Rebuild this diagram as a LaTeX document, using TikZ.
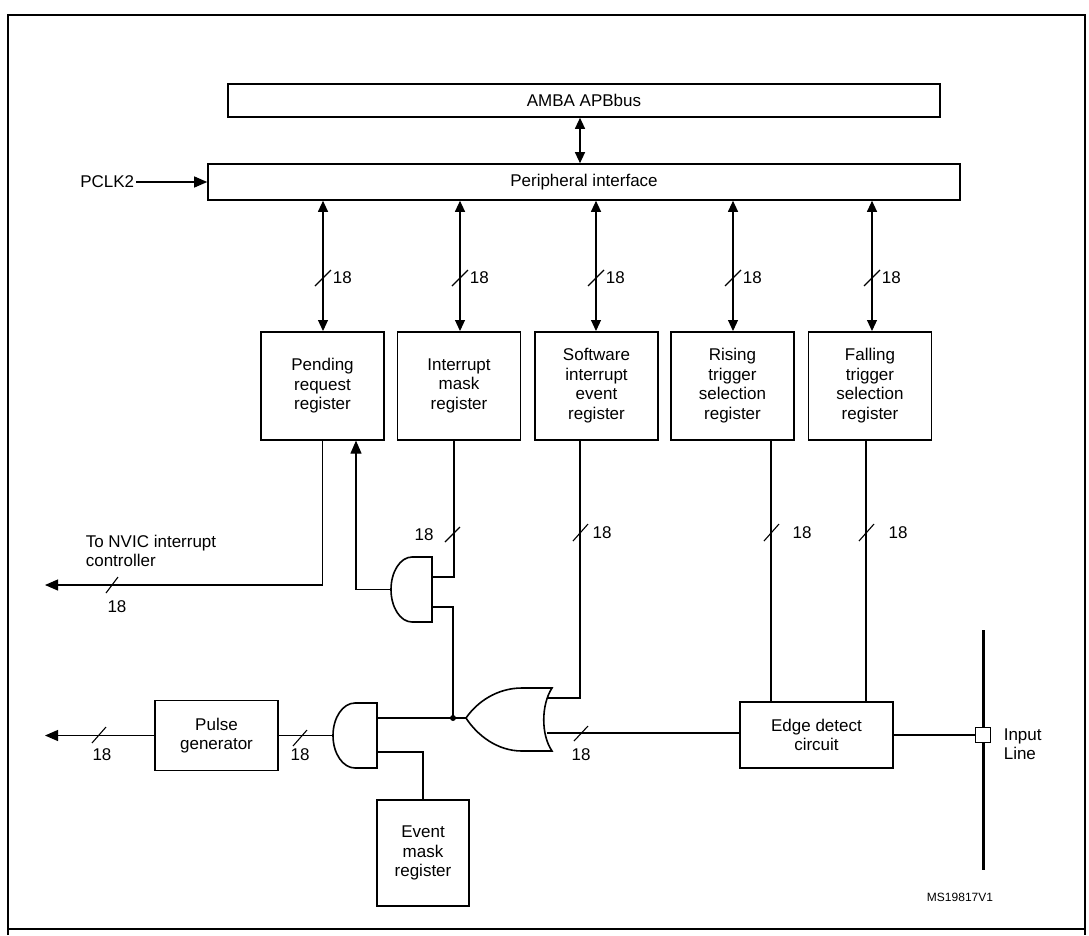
\documentclass[tikz,border=0pt]{standalone}
\usepackage{fontspec}
\setmainfont{Liberation Sans}
\usetikzlibrary{arrows.meta}
\begin{document}
\begin{tikzpicture}[x=1pt,y=-1pt,line width=1.6pt,
  every node/.style={font=\fontsize{17}{19.5}\selectfont},
  box/.style={draw,rectangle,align=center,inner sep=1pt},
  reg/.style={box,minimum width=123pt,minimum height=108pt,anchor=north},
  tip/.style={-{Triangle[length=13pt,width=11pt]}},
  dtip/.style={{Triangle[length=11pt,width=10pt]}-{Triangle[length=11pt,width=10pt]}},
  bus/.style={line width=1.1pt},
  lbl/.style={font=\fontsize{17}{19.5}\selectfont,inner sep=1pt}]
\useasboundingbox (0,0) rectangle (1089,935);
\draw[line width=1.8pt] (8,935) -- (8,15) -- (1085,15) -- (1085,935);
\draw[line width=1.8pt] (8,929) -- (1085,929);
% buses
\node[box,minimum width=712pt,minimum height=33pt] (amba) at (584,100.5) {AMBA APBbus};
\node[box,minimum width=752pt,minimum height=36pt] (pi) at (584,182) {Peripheral interface};
\draw[dtip,bus] (amba.south -| 580,0) -- (pi.north -| 580,0);
\node[lbl,anchor=east] (pclk) at (136,182) {PCLK2};
\draw[tip,bus] (pclk.east) -- (pi.west);
% registers
\node[reg] (pend) at (322.5,331) {Pending\\request\\register};
\node[reg] (imask) at (459,331) {Interrupt\\mask\\register};
\node[reg] (sw) at (596.5,331) {Software\\interrupt\\event\\register};
\node[reg] (rise) at (732.5,331) {Rising\\trigger\\selection\\register};
\node[reg] (fall) at (870,331) {Falling\\trigger\\selection\\register};
\foreach \n/\x in {pend/323,imask/460,sw/596,rise/733,fall/872}{
  \draw[dtip,bus] (pi.south -| \x,0) -- (\n.north -| \x,0);
  \draw[bus] (\x-8,286) -- (\x+8,270);
  \node[lbl,anchor=west] at (\x+8,278) {18};
}
% other boxes
\node[box,minimum width=123pt,minimum height=70pt] (pulse) at (216.5,735.5) {Pulse\\generator};
\node[box,minimum width=92pt,minimum height=106pt] (emask) at (423,853) {Event\\mask\\register};
\node[box,minimum width=153pt,minimum height=66pt] (edge) at (816.5,735) {Edge detect\\circuit};
% upper AND gate (facing left)
\draw (432,557) -- (412,557) arc[start angle=90,end angle=270,x radius=21pt,y radius=32.5pt] -- (432,622) -- cycle;
\coordinate (a1in1) at (432,577);
\coordinate (a1in2) at (432,607);
\coordinate (a1out) at (391,589.5);
% lower AND gate
\draw (377,703) -- (355,703) arc[start angle=90,end angle=270,x radius=22pt,y radius=32.5pt] -- (377,768) -- cycle;
\coordinate (a2in1) at (377,718);
\coordinate (a2in2) at (377,752);
\coordinate (a2out) at (333,735.5);
% OR gate
\draw (552,688) .. controls (541,705) and (541,735) .. (552,751) -- (522,751)
  .. controls (497,751) and (477,735) .. (466,718) .. controls (477,702) and (497,688) .. (522,688) -- cycle;
\coordinate (orin1) at (548,698);
\coordinate (orin2) at (547,733);
\coordinate (orout) at (466,718);
\coordinate (jn) at (453,718);
% connections
\draw[tip,bus] (pend.south) |- (45,585);
\draw[bus] (106,593) -- (118,577);
\node[lbl] at (117,607) {18};
\node[lbl,align=left,anchor=west] at (84,551) {To NVIC interrupt\\controller};
\draw[tip,bus] (a1out) -| (pend.south -| 356,0);
\draw[bus] (imask.south -| 454,0) |- (a1in1);
\draw[bus] (445,542) -- (460,527);
\node[lbl] at (424,535) {18};
\draw[bus] (a1in2) -| (jn);
\draw[bus] (a2in1) -- (jn) -- (orout);
\fill (jn) circle (3pt);
\draw[bus] (a2in2) -| (emask.north);
\draw[bus] (a2out) -- (pulse.east);
\draw[bus] (293,746) -- (307,730);
\node[lbl] at (300,755) {18};
\draw[tip,bus] (pulse.west) -- (45,735.5);
\draw[bus] (92,743) -- (106,727);
\node[lbl] at (102,755) {18};
\draw[bus] (sw.south -| 580,0) |- (orin1);
\draw[bus] (573,541) -- (588,524);
\node[lbl] at (602,533) {18};
\draw[bus] (orin2) -- (edge.west |- 0,733);
\draw[bus] (574,741) -- (588,726);
\node[lbl] at (581,755) {18};
\draw[bus] (rise.south -| 771,0) -- (edge.north -| 771,0);
\draw[bus] (764,541) -- (779,524);
\node[lbl] at (802,533) {18};
\draw[bus] (fall.south -| 866,0) -- (edge.north -| 866,0);
\draw[bus] (859,541) -- (874,524);
\node[lbl] at (898,533) {18};
% input line
\draw[line width=3pt] (983,630) -- (983,870);
\node[draw,fill=white,line width=1.2pt,minimum size=15pt,inner sep=0pt] (inp) at (983,735) {};
\draw[bus] (edge.east) -- (inp.west);
\node[lbl,align=left,anchor=west] at (1002,744) {Input\\Line};
\node[font=\fontsize{12}{13}\selectfont] at (960,897) {MS19817V1};
\end{tikzpicture}
\end{document}
